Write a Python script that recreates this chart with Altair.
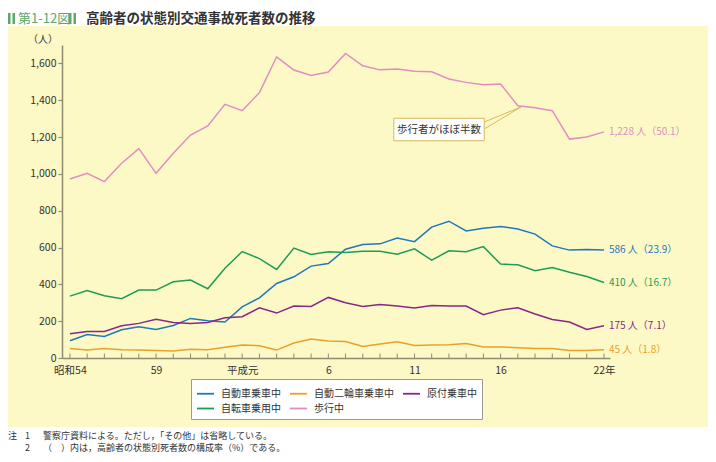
import altair as alt
import pandas as pd

JP = "Noto Sans CJK JP"

years = list(range(1979, 2011))
series_names = ["自動車乗車中", "自動二輪車乗車中", "原付乗車中", "自転車乗用中", "歩行中"]
colors = ["#1f78bd", "#e9a02a", "#8a2589", "#1c9c57", "#e08dc2"]

car = [94, 128, 117, 153, 170, 155, 177, 215, 202, 195, 278, 327, 405, 441, 499, 513,
       591, 616, 620, 651, 632, 711, 743, 690, 705, 714, 701, 673, 609, 586, 589, 586]
moto = [52, 43, 52, 45, 43, 41, 38, 47, 45, 58, 70, 67, 43, 81, 103, 92,
        90, 63, 76, 88, 68, 70, 72, 79, 60, 60, 56, 52, 52, 41, 41, 45]
moped = [132, 144, 144, 175, 188, 211, 193, 188, 193, 219, 224, 273, 244, 282, 280, 329,
         300, 280, 291, 282, 271, 285, 282, 282, 235, 260, 273, 239, 209, 195, 155, 175]
bike = [336, 367, 338, 322, 369, 369, 414, 423, 376, 488, 578, 540, 481, 597, 562, 577,
        573, 580, 580, 564, 593, 531, 582, 577, 605, 510, 506, 474, 492, 466, 443, 410]
walk = [972, 1003, 958, 1058, 1137, 1003, 1112, 1211, 1260, 1378, 1343, 1441, 1636, 1564, 1535, 1553,
        1654, 1587, 1565, 1569, 1558, 1555, 1515, 1497, 1484, 1488, 1370, 1359, 1343, 1189, 1200, 1228]
shares = [23.9, 1.8, 7.1, 16.7, 50.1]

label_years = [1979, 1984, 1989, 1994, 1999, 2004, 2010]
label_texts = ["昭和54", "59", "平成元", "6", "11", "16", "22年"]
y_ticks = [0, 200, 400, 600, 800, 1000, 1200, 1400, 1600]

title_tag = "第1-12図"
title_main = "高齢者の状態別交通事故死者数の推移"
y_unit = "（人）"
callout_text = "歩行者がほぼ半数"
note_lines = ["警察庁資料による。ただし，「その他」は省略している。",
              "（　）内は，高齢者の状態別死者数の構成率（%）である。"]

W, H = 548, 313
AXIS_COLOR = "#8f8b6e"
BG = "#fdf9c6"

series_values = [car, moto, moped, bike, walk]
rows = []
for name, vals in zip(series_names, series_values):
    for yr, v in zip(years, vals):
        rows.append({"year": yr, "value": v, "series": name})
df = pd.DataFrame(rows)

end_df = pd.DataFrame({
    "year": [years[-1]] * len(series_names),
    "value": [vals[-1] for vals in series_values],
    "label": [f"{vals[-1]:,} 人（{s}）" for vals, s in zip(series_values, shares)],
    "col": colors,
})

expr = "''"
for yv, t in reversed(list(zip(label_years, label_texts))):
    expr = f"datum.value == {yv} ? '{t}' : ({expr})"

xs = alt.Scale(domain=[1978.54, 2010.35], nice=False, zero=False)
ys = alt.Scale(domain=[0, 1700], nice=False, zero=True)

x_axis = alt.Axis(values=label_years, labelExpr=expr, ticks=False, grid=False,
                  domainColor=AXIS_COLOR, domainWidth=1.5, labelPadding=7,
                  labelFont=JP, labelFontSize=10.5, labelColor="#333", title=None,
                  zindex=2)
y_axis = alt.Axis(values=y_ticks, labelExpr="format(datum.value, ',')", grid=False,
                  domainColor=AXIS_COLOR, domainWidth=1.5, tickColor=AXIS_COLOR,
                  tickSize=4, tickWidth=1.2, labelPadding=2, labelFont=JP,
                  labelFontSize=10.5, labelColor="#333", title=None, zindex=2)


def X(field):
    return alt.X(field, type="quantitative", scale=xs, axis=x_axis)


def Y(field):
    return alt.Y(field, type="quantitative", scale=ys, axis=y_axis)


def prect(x1, x2, y1, y2, fill):
    return alt.Chart(pd.DataFrame({"a": [0]})).mark_rect(fill=fill).encode(
        x=alt.value(x1), x2=alt.value(x2), y=alt.value(y1), y2=alt.value(y2))


def ptext(txt, x, y, size=10, color="#333", align="left", weight="normal"):
    return alt.Chart(pd.DataFrame({"t": [txt]})).mark_text(
        font=JP, fontSize=size, color=color, align=align, baseline="middle",
        fontWeight=weight).encode(x=alt.value(x), y=alt.value(y), text="t:N")


background = prect(-54, 646, -19, 382, BG)

green = "#5aa86a"
title_layers = [
    prect(-54, -51.5, -32, -21, green),
    prect(-49.5, -47, -32, -21, green),
    ptext(title_tag, -44, -26.5, size=13, color=green),
    prect(7, 9.5, -32, -21, green),
    prect(11.5, 14, -32, -21, green),
    ptext(title_main, 24, -26.5, size=13.5, color="#333", weight="bold"),
]

note_layers = [
    ptext("注", -54, 391, size=9),
    ptext("1", -37, 391, size=9),
    ptext(note_lines[0], -19, 391, size=9),
    ptext("2", -37, 403, size=9),
    ptext(note_lines[1], -19, 403, size=9),
]

unit = ptext(y_unit, -19, -5, size=10, align="center")

ticks = alt.Chart(pd.DataFrame({"year": years})).mark_rule(
    color=AXIS_COLOR, strokeWidth=1).encode(
    x=X("year"), y=alt.value(H - 4.5), y2=alt.value(H))

lines = alt.Chart(df).mark_line(strokeWidth=1.5).encode(
    x=X("year"), y=Y("value"),
    color=alt.Color("series:N", sort=series_names,
                    scale=alt.Scale(domain=series_names, range=colors),
                    legend=alt.Legend(title=None, orient="none", legendX=129, legendY=334,
                                      direction="horizontal", columns=3,
                                      symbolType="stroke", symbolSize=289,
                                      symbolStrokeWidth=1.8, labelFont=JP,
                                      labelFontSize=10, labelColor="#333", labelOffset=6,
                                      columnPadding=5, rowPadding=0, padding=5,
                                      fillColor="white", strokeColor="#9a9a9a",
                                      gridAlign="each")),
    detail="series:N")

end_labels = alt.Chart(end_df).mark_text(
    align="left", baseline="middle", dx=5, font=JP, fontSize=10).encode(
    x=X("year"), y=Y("value"), text="label:N",
    color=alt.Color("col:N", scale=None))

# callout box anchored in data coordinates
box_df = pd.DataFrame({"year": [1997.8], "year2": [2003.05], "value": [1180], "value2": [1302]})
box = alt.Chart(box_df).mark_rect(fill="white", stroke="#d8b85c", strokeWidth=1).encode(
    x=X("year"), x2="year2:Q", y=Y("value"), y2="value2:Q")
wedge_df = pd.DataFrame({"year": [2003.05, 2003.05], "year2": [2005.2, 2005.2],
                         "value": [1282, 1244], "value2": [1364, 1364]})
wedge = alt.Chart(wedge_df).mark_rule(color="#d8b85c", strokeWidth=1).encode(
    x=X("year"), x2="year2:Q", y=Y("value"), y2="value2:Q")
callout_df = pd.DataFrame({"year": [2000.42], "value": [1241], "t": [callout_text]})
callout = alt.Chart(callout_df).mark_text(font=JP, fontSize=10.5, color="#333",
                                          baseline="middle").encode(
    x=X("year"), y=Y("value"), text="t:N")

chart = alt.layer(
    background, *title_layers, *note_layers, unit, ticks, lines, end_labels, wedge, box, callout
).properties(
    width=W, height=H,
    padding={"left": 54, "top": 37, "right": 98, "bottom": 96},
    autosize=alt.AutoSizeParams(type="none"),
    background="white",
).configure_view(stroke=None)

chart.save("out.html", embed_options={"renderer": "svg", "actions": False})
